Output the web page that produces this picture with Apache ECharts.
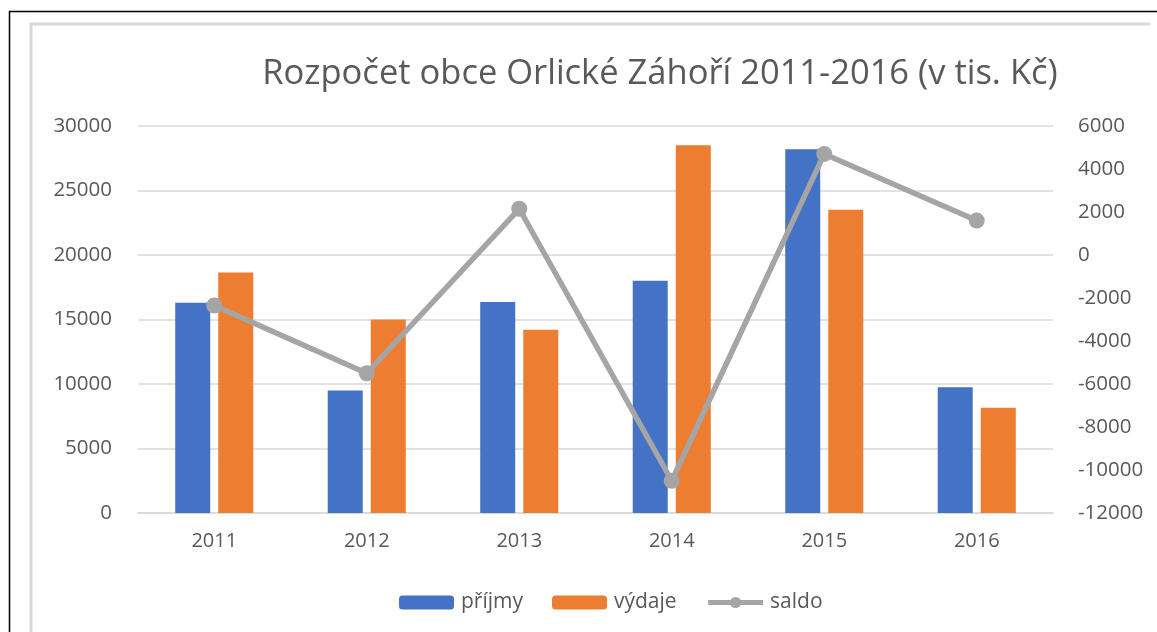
<!DOCTYPE html>
<html>
<head>
<meta charset="utf-8">
<script src="https://cdn.jsdelivr.net/npm/echarts@6/dist/echarts.min.js"></script>
<style>
  html, body { margin: 0; padding: 0; background: #fff; }
  #chart { width: 1157px; height: 632px; }
</style>
</head>
<body>
<div id="chart"></div>
<script>
var years = ['2011', '2012', '2013', '2014', '2015', '2016'];
var prijmy = [16300, 9500, 16350, 18000, 28200, 9750];
var vydaje = [18650, 15000, 14200, 28500, 23500, 8150];
var saldo = [-2350, -5500, 2150, -10500, 4700, 1600];

var font = 'Open Sans';
var textColor = '#595959';

var myChart = echarts.init(document.getElementById('chart'));
myChart.setOption({
    animation: false,
    textStyle: { fontFamily: font },
    graphic: [
        // vnější černý rámeček
        { type: 'polyline', silent: true, shape: { points: [[9.5, 640], [9.5, 11.5], [1160, 11.5]] },
          style: { stroke: '#000', lineWidth: 1.5, fill: null } },
        // šedý okraj grafu
        { type: 'polyline', silent: true, shape: { points: [[31, 640], [31, 24], [1150, 24]] },
          style: { stroke: '#d9d9d9', lineWidth: 3, fill: null } }
    ],
    title: {
        text: 'Rozpočet obce Orlické Záhoří 2011-2016 (v tis. Kč)',
        left: 655,
        textAlign: 'center',
        top: 52,
        textStyle: { fontFamily: font, fontSize: 34.5, fontWeight: 'normal', color: textColor }
    },
    legend: {
        bottom: 14,
        left: 394,
        itemGap: 29,
        itemWidth: 55,
        itemHeight: 14,
        textStyle: { fontFamily: font, fontSize: 21, color: textColor, padding: [0, 0, 0, 2] },
        data: [
            { name: 'příjmy' },
            { name: 'výdaje' },
            { name: 'saldo', itemStyle: { color: '#A5A5A5' }, lineStyle: { width: 5, color: '#A5A5A5' } }
        ]
    },
    grid: { left: 138, right: 104, top: 126, bottom: 119 },
    xAxis: {
        type: 'category',
        data: years,
        axisLine: { lineStyle: { color: '#d9d9d9', width: 1.5 } },
        axisTick: { show: false },
        axisLabel: { fontFamily: font, fontSize: 20, color: textColor, margin: 18 }
    },
    yAxis: [
        {
            type: 'value',
            min: 0, max: 30000, interval: 5000,
            axisLine: { show: false },
            axisTick: { show: false },
            splitLine: { lineStyle: { color: '#d9d9d9', width: 1.5 } },
            axisLabel: { fontFamily: font, fontSize: 20.5, color: textColor, margin: 26,
                         formatter: function (v) { return String(v); } }
        },
        {
            type: 'value',
            min: -12000, max: 6000, interval: 2000,
            axisLine: { show: false },
            axisTick: { show: false },
            splitLine: { show: false },
            axisLabel: { fontFamily: font, fontSize: 20.5, color: textColor, margin: 25,
                         formatter: function (v) { return String(v); } }
        }
    ],
    series: [
        {
            name: 'příjmy',
            type: 'bar',
            data: prijmy,
            barWidth: 35,
            barGap: '23%',
            itemStyle: { color: '#4472C4' }
        },
        {
            name: 'výdaje',
            type: 'bar',
            data: vydaje,
            barWidth: 35,
            itemStyle: { color: '#ED7D31' }
        },
        {
            name: 'saldo',
            type: 'line',
            yAxisIndex: 1,
            data: saldo,
            symbol: 'circle',
            symbolSize: 16,
            lineStyle: { color: '#A5A5A5', width: 5.5 },
            itemStyle: { color: '#A5A5A5' },
            z: 5
        }
    ]
});
</script>
</body>
</html>
